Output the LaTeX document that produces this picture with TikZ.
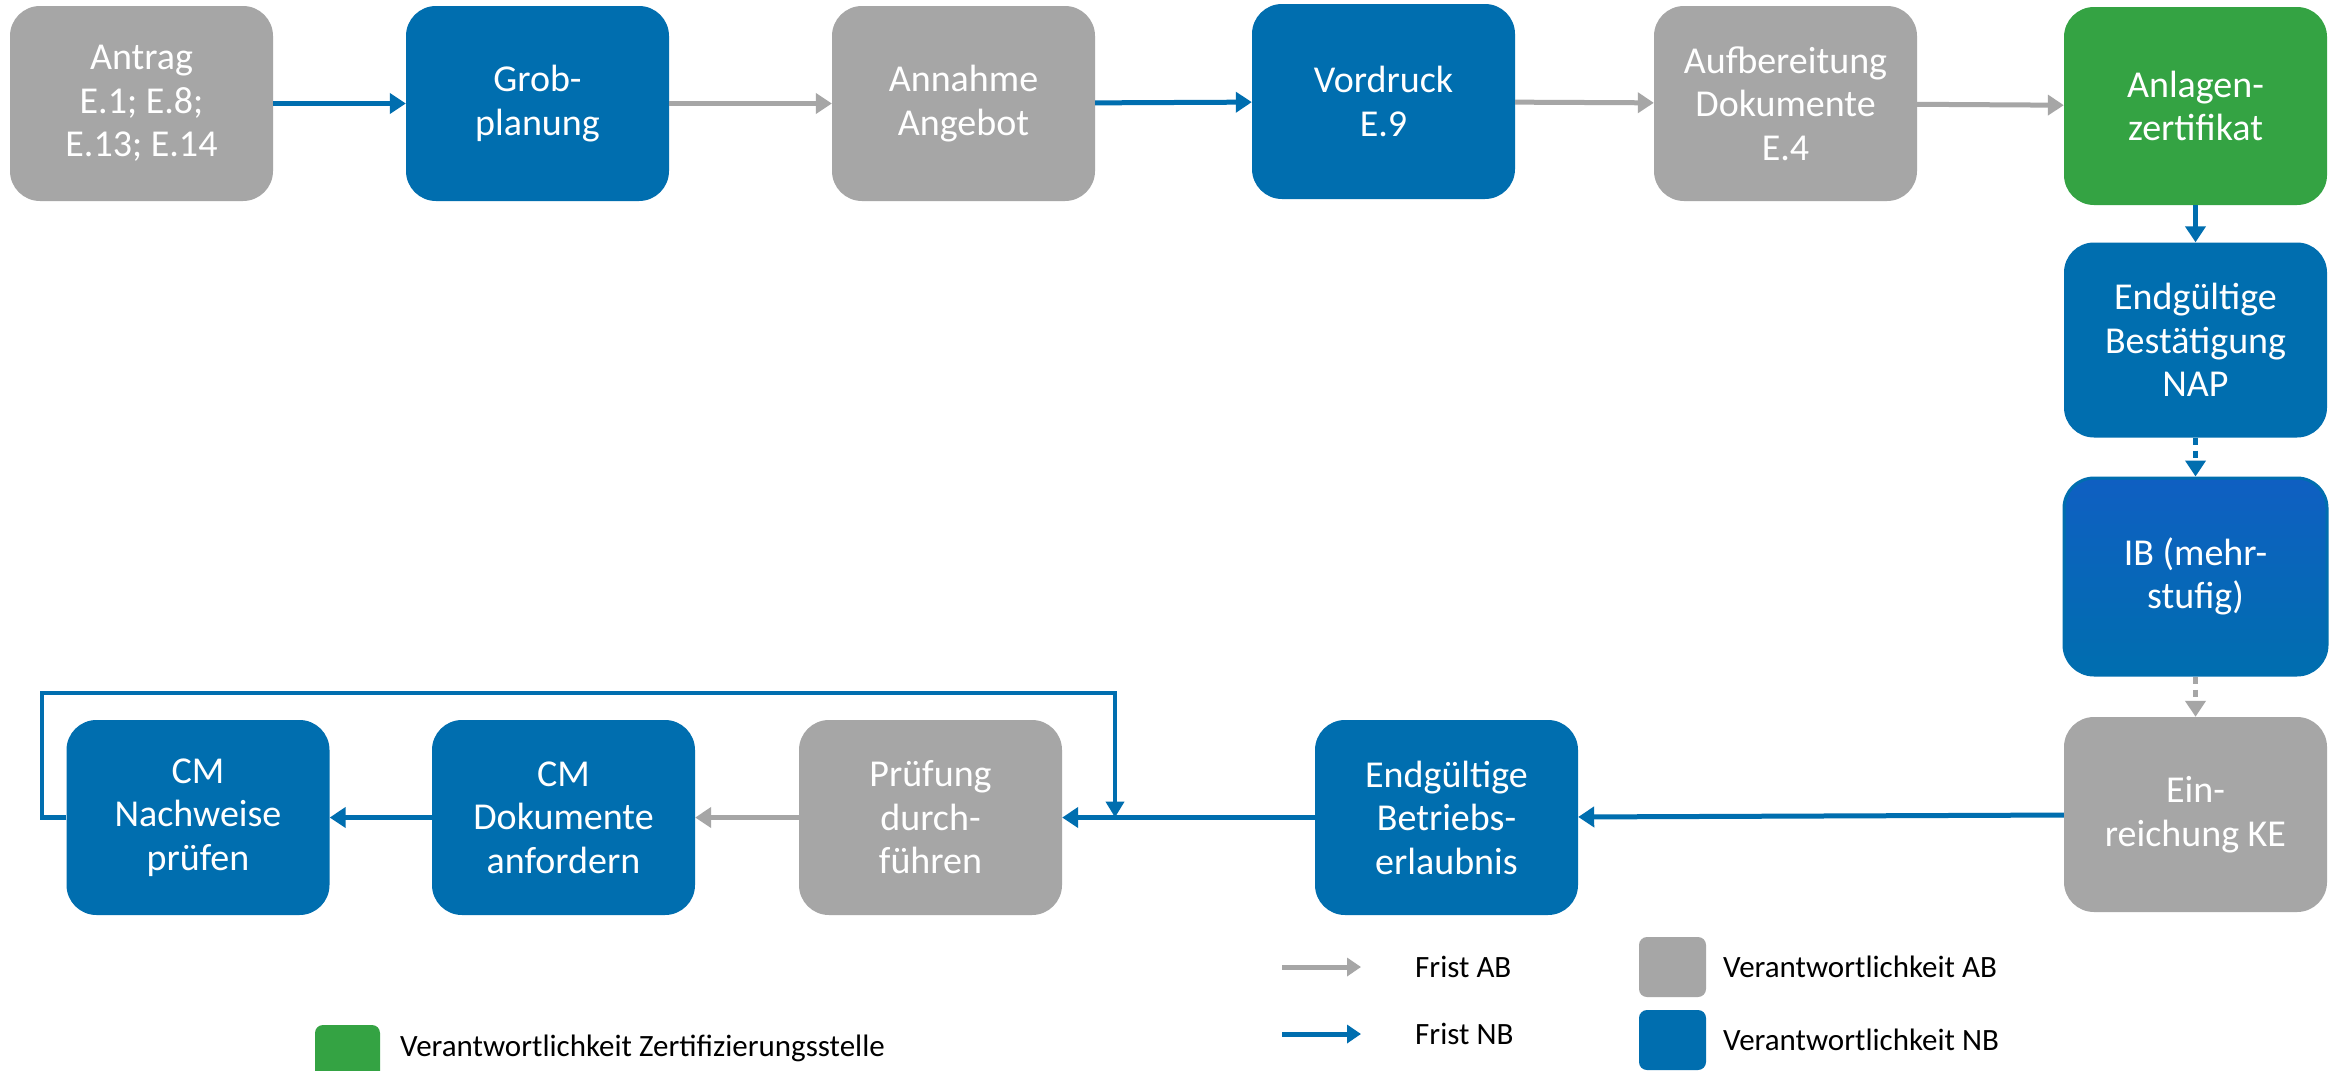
\documentclass[tikz,border=0pt]{standalone}
\usepackage{fontspec}
\setmainfont{Carlito}
\usetikzlibrary{arrows.meta}
\definecolor{cgray}{HTML}{A6A6A6}
\definecolor{cblue}{HTML}{006EAF}
\definecolor{cbluetop}{HTML}{0F5FC2}
\definecolor{cgreen}{HTML}{34A343}
\begin{document}
\begin{tikzpicture}[x=1pt,y=-1pt,
  box/.style={rounded corners=30pt,minimum width=263pt,minimum height=195pt,text=white,align=center,inner sep=0pt,font=\fontsize{38}{43.5}\selectfont},
  gbox/.style={box,fill=cgray},
  bbox/.style={box,fill=cblue},
  grbox/.style={box,fill=cgreen},
  arr/.style={line width=5pt,-{Triangle[length=16pt,width=20pt]}},
  garr/.style={arr,draw=cgray},
  barr/.style={arr,draw=cblue},
  dotarr/.style={dash pattern=on 7pt off 6pt},
  legtext/.style={anchor=west,font=\fontsize{31}{36}\selectfont,inner sep=0pt},
  legsq/.style={rounded corners=8pt,minimum width=67pt,minimum height=60pt,inner sep=0pt}
]
\fill[white] (0,0) rectangle (2343,1071);
\useasboundingbox (0,0) rectangle (2343,1071);

% top row
\node[gbox] (antrag) at (141.5,103.5) {Antrag\\E.1; E.8;\\E.13; E.14};
\node[bbox] (grob) at (537.5,103.5) {Grob-\\planung};
\node[gbox] (annahme) at (963.5,103.5) {Annahme\\Angebot};
\node[bbox] (vordruck) at (1383.5,101.5) {Vordruck\\E.9};
\node[gbox] (aufb) at (1785.5,103.5) {Aufbereitung\\Dokumente\\E.4};
\node[grbox,minimum height=198pt] (anlagen) at (2195.5,106) {Anlagen-\\zertifikat};

% right column
\node[bbox] (nap) at (2195.5,340) {Endg\"ultige\\Best\"atigung\\NAP};
\node[box,top color=cbluetop,bottom color=cblue,draw=cblue,line width=3pt,minimum height=197pt] (ib) at (2195.5,576.5) {IB (mehr-\\stufig)};
\node[gbox] (einr) at (2195.5,814.5) {Ein-\\reichung KE};

% bottom row
\node[bbox] (betrieb) at (1446.5,817.5) {Endg\"ultige\\Betriebs-\\erlaubnis};
\node[gbox] (pruef) at (930.5,817.5) {Pr\"ufung\\durch-\\f\"uhren};
\node[bbox] (doku) at (563.5,817.5) {CM\\Dokumente\\anfordern};
\node[bbox] (nachw) at (198,817.5) {CM\\Nachweise\\pr\"ufen};

% connectors
\draw[barr] (antrag) -- (grob);
\draw[garr] (grob) -- (annahme);
\draw[barr] (annahme) -- (vordruck);
\draw[garr] (vordruck) -- (aufb);
\draw[garr] (aufb) -- (anlagen);
\draw[barr] (anlagen) -- (nap);
\draw[barr,dotarr] (nap) -- (ib);
\draw[garr,dotarr] (ib) -- (einr);
\draw[barr] (einr) -- (betrieb);
\draw[barr] (betrieb) -- (pruef);
\draw[garr] (pruef) -- (doku);
\draw[barr] (doku) -- (nachw);

% feedback loop
\coordinate (lA) at (42,693);
\coordinate (lB) at (1115,693);
\coordinate (lP) at (1115,817.5);
\draw[draw=cblue,line width=4.5pt,-{Triangle[length=16pt,width=18pt]}] (nachw.west) -- (nachw.west -| lA) -- (lA) -- (lB) -- (lP);

% legend
\coordinate (ga1) at (1282,967);
\coordinate (ga2) at (1361,967);
\coordinate (ba1) at (1282,1034);
\coordinate (ba2) at (1361,1034);
\draw[garr,-{Triangle[length=14pt,width=18pt]}] (ga1) -- (ga2);
\draw[barr,-{Triangle[length=14pt,width=18pt]}] (ba1) -- (ba2);
\node[legtext] (fab) at (1415,967) {Frist AB};
\node[legtext] (fnb) at (1415,1034) {Frist NB};
\node[legsq,fill=cgray] (sqg) at (1672.5,967) {};
\node[legsq,fill=cblue] (sqb) at (1672.5,1040) {};
\node[legtext] (vab) at (1723,967) {Verantwortlichkeit AB};
\node[legtext] (vnb) at (1723,1040) {Verantwortlichkeit NB};
\node[legsq,fill=cgreen,minimum width=65pt,minimum height=56pt] (sqgr) at (347.5,1053) {};
\node[legtext] (vz) at (400,1048) {Verantwortlichkeit Zertifizierungsstelle};
\end{tikzpicture}
\end{document}
